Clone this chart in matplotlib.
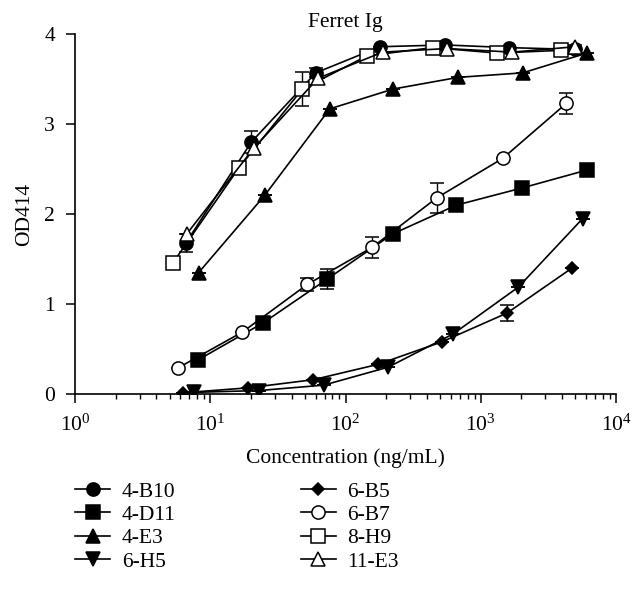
import matplotlib
matplotlib.use("Agg")
import matplotlib.pyplot as plt
from matplotlib.lines import Line2D
from matplotlib.ticker import LogLocator, NullFormatter

plt.rcParams['font.family'] = ['Liberation Serif', 'DejaVu Serif']
plt.rcParams['mathtext.fontset'] = 'stix'

# concentrations (ng/mL) and OD414 values
x_4b10 = [6.6, 20.1, 60.3, 180, 544, 1630, 5000]
y_4b10 = [1.68, 2.80, 3.57, 3.86, 3.88, 3.85, 3.83]
e_4b10 = [0.10, 0.12, 0.05, 0, 0, 0, 0.05]

x_4d11 = [8.1, 24.5, 73.5, 223, 660, 2012, 6100]
y_4d11 = [0.38, 0.79, 1.28, 1.78, 2.10, 2.29, 2.49]
e_4d11 = [0, 0, 0.11, 0, 0, 0, 0]

x_4e3 = [8.2, 25.3, 76.5, 225, 682, 2047, 6100]
y_4e3 = [1.35, 2.21, 3.17, 3.39, 3.52, 3.57, 3.79]
e_4e3 = [0, 0, 0, 0, 0, 0, 0]

x_6h5 = [7.6, 22.9, 69, 207, 627, 1900, 5660]
y_6h5 = [0.02, 0.04, 0.10, 0.30, 0.67, 1.19, 1.95]
e_6h5 = [0, 0, 0, 0, 0, 0, 0]

x_6b5 = [6.3, 19, 57.6, 173, 514, 1560, 4720]
y_6b5 = [0.015, 0.07, 0.16, 0.33, 0.58, 0.90, 1.40]
e_6b5 = [0, 0, 0, 0, 0, 0.09, 0]

x_6b7 = [5.75, 17.3, 52.3, 157, 472, 1455, 4290]
y_6b7 = [0.29, 0.69, 1.22, 1.63, 2.18, 2.62, 3.23]
e_6b7 = [0, 0, 0.07, 0.12, 0.17, 0, 0.12]

x_8h9 = [5.3, 16.2, 48, 145, 441, 1315, 3915]
y_8h9 = [1.46, 2.51, 3.39, 3.76, 3.85, 3.79, 3.82]
e_8h9 = [0, 0, 0.19, 0, 0, 0, 0]

x_11e3 = [6.7, 20.9, 62.7, 188, 560, 1700, 5000]
y_11e3 = [1.78, 2.73, 3.51, 3.80, 3.84, 3.80, 3.86]
e_11e3 = [0, 0.06, 0, 0, 0, 0, 0]

series = [
    ("4-B10", x_4b10, y_4b10, e_4b10, 'o', 'black'),
    ("4-D11", x_4d11, y_4d11, e_4d11, 's', 'black'),
    ("4-E3", x_4e3, y_4e3, e_4e3, '^', 'black'),
    ("6-H5", x_6h5, y_6h5, e_6h5, 'v', 'black'),
    ("6-B5", x_6b5, y_6b5, e_6b5, 'D', 'black'),
    ("6-B7", x_6b7, y_6b7, e_6b7, 'o', 'white'),
    ("8-H9", x_8h9, y_8h9, e_8h9, 's', 'white'),
    ("11-E3", x_11e3, y_11e3, e_11e3, '^', 'white'),
]

FS = 15.5

fig = plt.figure(figsize=(6.44, 5.99), dpi=100)
ax = fig.add_axes([0.1165, 0.342, 0.840, 0.601])

handles = []
for name, x, y, e, m, fc in series:
    ms = 6.5 if m == 'D' else 9.5
    ax.errorbar(x, y, yerr=e, color='black', lw=1.2, marker=m,
                markersize=ms, markerfacecolor=fc, markeredgecolor='black',
                markeredgewidth=1.1, capsize=4.7, elinewidth=1.0)
    handles.append(Line2D([], [], color='black', lw=1.2, marker=m, markersize=ms,
                          markerfacecolor=fc, markeredgecolor='black',
                          markeredgewidth=1.1, label=name))

ax.set_xscale('log')
ax.set_xlim(1, 1e4)
ax.set_ylim(0, 4)
ax.set_yticks([0, 1, 2, 3, 4])
ax.xaxis.set_minor_locator(LogLocator(base=10, subs=range(2, 10)))
ax.xaxis.set_minor_formatter(NullFormatter())
ax.spines['top'].set_visible(False)
ax.spines['right'].set_visible(False)
ax.spines['left'].set_linewidth(1.2)
ax.spines['bottom'].set_linewidth(1.2)
ax.tick_params(axis='both', which='major', direction='out', length=6.5, width=1.1, labelsize=FS)
ax.tick_params(axis='y', which='major', pad=8)
ax.tick_params(axis='x', which='major', pad=8)
ax.tick_params(axis='x', which='minor', direction='out', length=3.3, width=1.0)
ax.set_title("Ferret Ig", fontsize=FS, pad=5)
ax.set_ylabel("OD414", fontsize=FS, va='center')
ax.yaxis.set_label_coords(-0.093, 0.5)
ax.set_xlabel("Concentration (ng/mL)", fontsize=FS, va='center')
ax.xaxis.set_label_coords(0.5, -0.178)

fig.legend(handles=handles, loc='upper left', bbox_to_anchor=(0.1165, 0.196),
           ncol=2, frameon=False, fontsize=FS, handlelength=1.63,
           labelspacing=0.15, columnspacing=5.8, handletextpad=0.55,
           borderaxespad=0, borderpad=0)

fig.savefig("out.png", dpi=100)
